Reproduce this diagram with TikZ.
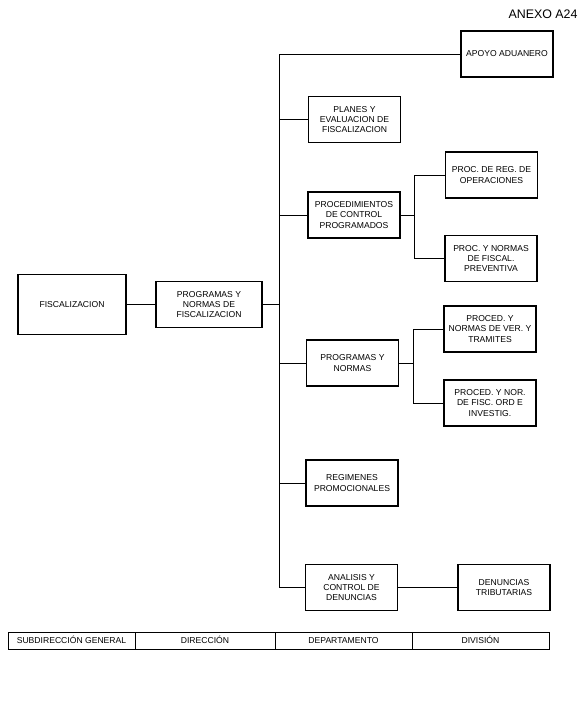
\documentclass[tikz,border=0pt]{standalone}
\usepackage{fontspec}
\setmainfont{Liberation Sans}
\begin{document}
\begin{tikzpicture}[x=1pt,y=-1pt,
  orgbox/.style={draw, line width=1.1pt, minimum width=92pt, minimum height=46pt, inner sep=1pt, align=center, font=\fontsize{8.6}{10.2}\selectfont},
  cell/.style={draw, line width=0.8pt, minimum height=17pt, inner sep=0pt, text height=6.5pt, text depth=1.5pt, font=\fontsize{8.6}{10}\selectfont},
  conn/.style={line width=0.9pt}]
\useasboundingbox (0,0) rectangle (588,711);
\node[font=\fontsize{12.4}{14}\selectfont] (anexo) at (543,14) {ANEXO A24};

\node[orgbox, minimum width=108pt, minimum height=60pt] (fis) at (72,304.5) {FISCALIZACION};
\node[orgbox, minimum width=106pt] (pnf) at (209,304.5) {PROGRAMAS Y\\NORMAS DE\\FISCALIZACION};

\node[orgbox] (apoyo) at (507,54) {APOYO ADUANERO};
\node[orgbox] (planes) at (354.5,119.5) {PLANES Y\\EVALUACION DE\\FISCALIZACION};
\node[orgbox] (procctl) at (354,215) {PROCEDIMIENTOS\\DE CONTROL\\PROGRAMADOS};
\node[orgbox] (procreg) at (491.5,175) {PROC. DE REG. DE\\OPERACIONES};
\node[orgbox] (procnor) at (491,258.5) {PROC. Y NORMAS\\DE FISCAL.\\PREVENTIVA};
\node[orgbox] (prognor) at (352.5,363) {PROGRAMAS Y\\NORMAS};
\node[orgbox] (procver) at (490,329) {PROCED. Y\\NORMAS DE VER. Y\\TRAMITES};
\node[orgbox] (procfisc) at (490,403) {PROCED. Y NOR.\\DE FISC. ORD E\\INVESTIG.};
\node[orgbox] (regim) at (352,483) {REGIMENES\\PROMOCIONALES};
\node[orgbox] (analisis) at (351.5,587.5) {ANALISIS Y\\CONTROL DE\\DENUNCIAS};
\node[orgbox] (denun) at (504,587.5) {DENUNCIAS\\TRIBUTARIAS};

\coordinate (trunk) at (279,0);
\coordinate (b1) at (414,0);
\coordinate (b2) at (413,0);

\draw[conn] (fis.east) -- (pnf.west);
\draw[conn] (pnf.east) -- (pnf.east -| trunk);
\draw[conn] (apoyo.west) -- (apoyo.west -| trunk) -- (analisis.west -| trunk) -- (analisis.west);
\draw[conn] (planes.west) -- (planes.west -| trunk);
\draw[conn] (procctl.west) -- (procctl.west -| trunk);
\draw[conn] (prognor.west) -- (prognor.west -| trunk);
\draw[conn] (regim.west) -- (regim.west -| trunk);

\draw[conn] (procctl.east) -- (procctl.east -| b1);
\draw[conn] (procreg.west) -- (procreg.west -| b1) -- (procnor.west -| b1) -- (procnor.west);
\draw[conn] (prognor.east) -- (prognor.east -| b2);
\draw[conn] (procver.west) -- (procver.west -| b2) -- (procfisc.west -| b2) -- (procfisc.west);
\draw[conn] (analisis.east) -- (denun.west);

\node[cell, minimum width=127pt] (c1) at (71.5,640.5) {SUBDIRECCIÓN GENERAL};
\node[cell, minimum width=140pt] (c2) at (205,640.5) {DIRECCIÓN};
\node[cell, minimum width=137pt] (c3) at (343.5,640.5) {DEPARTAMENTO};
\node[cell, minimum width=137pt] (c4) at (480.5,640.5) {DIVISIÓN};
\end{tikzpicture}
\end{document}
